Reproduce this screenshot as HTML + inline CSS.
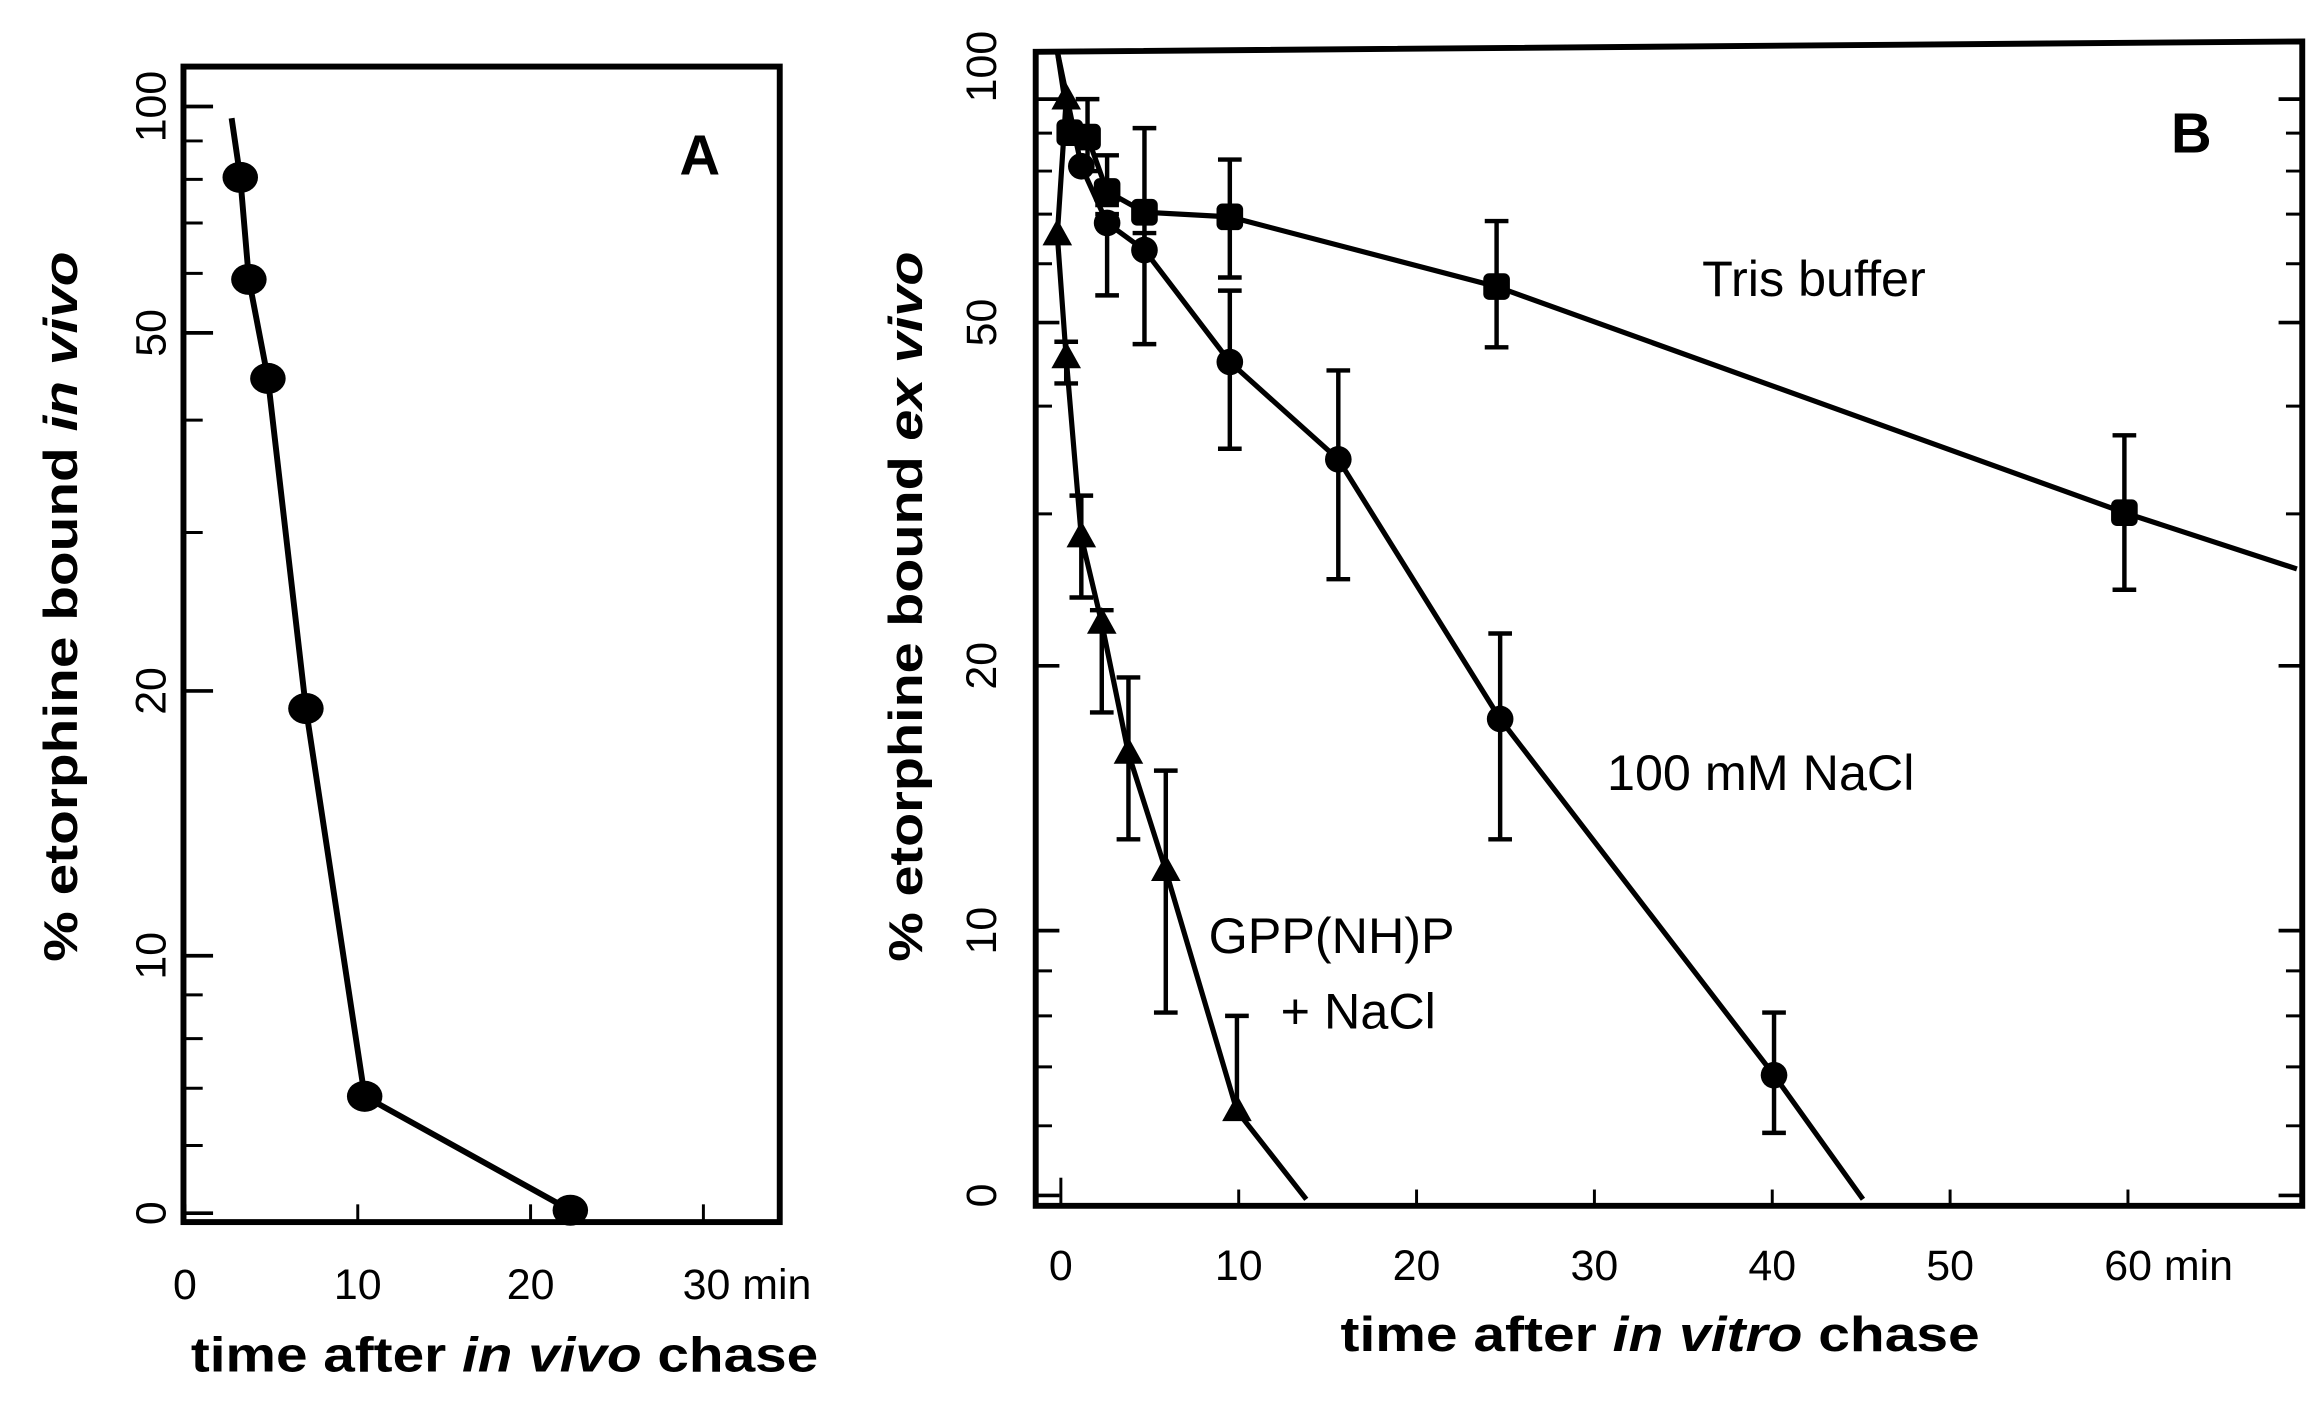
<!DOCTYPE html>
<html><head><meta charset="utf-8"><style>
html,body{margin:0;padding:0;background:#fff;}
svg{display:block;}
text{font-family:"Liberation Sans",sans-serif;fill:#000;}
</style></head><body>
<svg id="fig" width="2320" height="1402" viewBox="0 0 1568 947.6" preserveAspectRatio="none" xmlns="http://www.w3.org/2000/svg">
<g id="gA"></g>
<g id="gB"></g>
</svg>
<script>
// ---- Panel A data ----
const aTimes = [3.2, 3.7, 4.8, 7.0, 10.4, 22.3];
const aValues = [80.5, 58.9, 44.5, 19.1, 6.85, 5.04];
const aLineStart = [2.7, 96.5];
const aYTickValues = [100, 50, 20, 10, 5];
const aYTickLabels = ["100", "50", "20", "10", "0"];
const aXTickValues = [0, 10, 20, 30];
const aXTickLabels = ["0", "10", "20", "30 min"];
const minorTickValues = [90, 80, 70, 60, 40, 30, 9, 8, 7, 6];

// ---- Panel B data ----
const trisTimes = [0.5, 1.5, 2.6, 4.7, 9.5, 24.5, 59.8];
const trisValues = [90.1, 88.9, 75.1, 70.4, 69.4, 55.9, 30.1];
const trisErrHi = [null, 100, 84, 91.4, 82.9, 68.5, 37.0];
const trisErrLo = [null, 80, 72, 62, 57.5, 46.8, 24.5];
const trisEnd = [69.5, 25.9];
const naclTimes = [1.15, 2.6, 4.7, 9.5, 15.6, 24.7, 40.1];
const naclValues = [81.2, 68.1, 62.6, 45.0, 34.7, 17.4, 6.85];
const naclErrHi = [null, 70, 66, 55.2, 44.0, 21.8, 8.07];
const naclErrLo = [null, 54.4, 47.2, 35.7, 25.2, 12.7, 5.89];
const naclEnd = [45.1, 4.95];
const gppTimes = [0.3, -0.2, 0.3, 1.15, 2.3, 3.8, 5.9, 9.9];
const gppValues = [100, 65.6, 45.5, 28.2, 22.4, 15.9, 11.7, 6.24];
const gppErrHi = [null, null, 47.5, 31.5, 23.2, 19.4, 15.2, 8.0];
const gppErrLo = [null, null, 42.5, 24.0, 17.7, 12.7, 8.07, null];
const gppEnd = [13.8, 4.95];
const lineStartB = [-0.2, 116];
const bYTickValues = [100, 50, 20, 10, 5];
const bYTickLabels = ["100", "50", "20", "10", "0"];
const bXTickValues = [0, 10, 20, 30, 40, 50, 60];
const bXTickLabels = ["0", "10", "20", "30", "40", "50", "60 min"];

const NS = "http://www.w3.org/2000/svg";
function el(parent, tag, attrs) {
  const e = document.createElementNS(NS, tag);
  for (const k in attrs) e.setAttribute(k, attrs[k]);
  parent.appendChild(e);
  return e;
}
function makeLogScale(vals, pix) {
  return function (v) {
    const lv = Math.log(v);
    let i = 0;
    while (i < vals.length - 2 && lv < Math.log(vals[i + 1])) i++;
    const a = Math.log(vals[i]), b = Math.log(vals[i + 1]);
    return pix[i] + (lv - a) / (b - a) * (pix[i + 1] - pix[i]);
  };
}
const xA = t => 125 + t * 11.68;
const yA = makeLogScale(aYTickValues, [72, 225, 467, 646, 820]);
const xB = t => 717 + t * 12.02;
const yB = makeLogScale(bYTickValues, [67, 218, 450, 629, 808]);

const gA = document.getElementById('gA');
const gB = document.getElementById('gB');

// ---------- Panel A ----------
let f = el(gA, 'rect', {x: 124, y: 45, width: 403, height: 781, fill: 'none', stroke: '#000', 'stroke-width': 4});


aYTickValues.forEach((v, i) => {
  const y = yA(v);
  let t = el(gA, 'line', {x1: 124, x2: 144, y1: y, y2: y, stroke: '#000', 'stroke-width': 2.5});
  
  
  let l = el(gA, 'text', {x: 0, y: 0, 'font-size': 29, 'text-anchor': 'middle', transform: `translate(112,${y}) rotate(-90)`});
  l.textContent = aYTickLabels[i];
  
  
});
minorTickValues.forEach(v => {
  const y = yA(v);
  let t = el(gA, 'line', {x1: 124, x2: 137, y1: y, y2: y, stroke: '#000', 'stroke-width': 2});
  
  
});
aXTickValues.forEach((v, i) => {
  const x = xA(v);
  let t = el(gA, 'line', {x1: x, x2: x, y1: 826, y2: 814, stroke: '#000', 'stroke-width': 2});
  
  
  let l = el(gA, 'text', {x: i === 3 ? x - 14 : x, y: 878, 'font-size': 29, 'text-anchor': i === 3 ? 'start' : 'middle'});
  l.textContent = aXTickLabels[i];
  
  
});
let ptsA = [[xA(aLineStart[0]), yA(aLineStart[1])]].concat(aTimes.map((t, i) => [xA(t), yA(aValues[i])]));
let pl = el(gA, 'polyline', {points: ptsA.map(p => p.join(',')).join(' '), fill: 'none', stroke: '#000', 'stroke-width': 4});


aTimes.forEach((t, i) => {
  let c = el(gA, 'ellipse', {cx: xA(t), cy: yA(aValues[i]), rx: 12, ry: 10.5, fill: '#000'});
  
  
});
let lblA = el(gA, 'text', {x: 473, y: 118, 'font-size': 38, 'font-weight': 'bold', 'text-anchor': 'middle'});
lblA.textContent = 'A';


let ytA = el(gA, 'text', {x: 0, y: 0, 'font-size': 32, 'font-weight': 'bold', 'text-anchor': 'middle', transform: 'translate(52,410) rotate(-90)', textLength: 480, lengthAdjust: 'spacingAndGlyphs'});
ytA.innerHTML = '% etorphine bound <tspan font-style="italic">in vivo</tspan>';


let xtA = el(gA, 'text', {x: 341, y: 927, 'font-size': 33, 'font-weight': 'bold', 'text-anchor': 'middle', textLength: 424, lengthAdjust: 'spacingAndGlyphs'});
xtA.innerHTML = 'time after <tspan font-style="italic">in vivo</tspan> chase';



// ---------- Panel B ----------
let fb = el(gB, 'polygon', {points: '700,35 1556,28 1556,815 700,815', fill: 'none', stroke: '#000', 'stroke-width': 4});


bYTickValues.forEach((v, i) => {
  const y = yB(v);
  let t = el(gB, 'line', {x1: 700, x2: 716, y1: y, y2: y, stroke: '#000', 'stroke-width': 2.5});
  
  
  let t2 = el(gB, 'line', {x1: 1540, x2: 1556, y1: y, y2: y, stroke: '#000', 'stroke-width': 2.5});
  
  
  let l = el(gB, 'text', {x: 0, y: 0, 'font-size': 29, 'text-anchor': 'middle', transform: `translate(673,${i === 0 ? 45 : y}) rotate(-90)`});
  l.textContent = bYTickLabels[i];
  
  
});
minorTickValues.forEach(v => {
  const y = yB(v);
  let t = el(gB, 'line', {x1: 700, x2: 711, y1: y, y2: y, stroke: '#000', 'stroke-width': 2});
  
  
  let t2 = el(gB, 'line', {x1: 1545, x2: 1556, y1: y, y2: y, stroke: '#000', 'stroke-width': 2});
  
  
});
bXTickValues.forEach((v, i) => {
  const x = xB(v);
  let t = el(gB, 'line', {x1: x, x2: x, y1: 815, y2: i === 0 ? 796 : 804, stroke: '#000', 'stroke-width': 2});
  
  
  let l = el(gB, 'text', {x: i === 6 ? x - 16 : x, y: 865, 'font-size': 29, 'text-anchor': i === 6 ? 'start' : 'middle'});
  l.textContent = bXTickLabels[i];
  
  
});
function drawSeries(name, times, vals, hi, lo, end, marker) {
  const g = el(gB, 'g', {});
  
  
  const pts = [[xB(lineStartB[0]), yB(lineStartB[1])]].concat(times.map((t, i) => [xB(t), yB(vals[i])]));
  pts.push([xB(end[0]), yB(end[1])]);
  let p = el(g, 'polyline', {points: pts.map(q => q.join(',')).join(' '), fill: 'none', stroke: '#000', 'stroke-width': 3.5});
  
  
  times.forEach((t, i) => {
    const x = xB(t);
    if (hi[i] !== null || lo[i] !== null) {
      const y1 = yB(hi[i] !== null ? hi[i] : vals[i]);
      const y2 = yB(lo[i] !== null ? lo[i] : vals[i]);
      let e = el(g, 'path', {d: `M${x},${y1}V${y2}` + (hi[i] !== null ? `M${x - 8},${y1}H${x + 8}` : '') + (lo[i] !== null ? `M${x - 8},${y2}H${x + 8}` : ''), stroke: '#000', 'stroke-width': 3, fill: 'none'});
      
      
    }
    const y = yB(vals[i]);
    let m;
    if (marker === 'circle') m = el(g, 'circle', {cx: x, cy: y, r: 9, fill: '#000'});
    else if (marker === 'square') m = el(g, 'rect', {x: x - 9, y: y - 9, width: 18, height: 18, rx: 4, fill: '#000'});
    else m = el(g, 'polygon', {points: `${x},${y - 11} ${x - 10},${y + 7} ${x + 10},${y + 7}`, fill: '#000'});
    
    
  });
}
drawSeries('tris-buffer', trisTimes, trisValues, trisErrHi, trisErrLo, trisEnd, 'square');
drawSeries('nacl', naclTimes, naclValues, naclErrHi, naclErrLo, naclEnd, 'circle');
drawSeries('gpp-nacl', gppTimes, gppValues, gppErrHi, gppErrLo, gppEnd, 'triangle');

function label(g, txt, x, y, size, name, extra) {
  let t = el(g, 'text', Object.assign({x: x, y: y, 'font-size': size, 'text-anchor': 'middle'}, extra || {}));
  t.textContent = txt;
  
  
  return t;
}
label(gB, 'B', 1481, 103, 38, 'panel-b-label', {'font-weight': 'bold'});
label(gB, 'Tris buffer', 1226, 200, 34, 'tris-buffer-label');
label(gB, '100 mM NaCl', 1190, 534, 34, 'nacl-label');
label(gB, 'GPP(NH)P', 900, 644, 34, 'gpp-label');
label(gB, '+ NaCl', 918, 695, 34, 'gpp-nacl-label');
let ytB = el(gB, 'text', {x: 0, y: 0, 'font-size': 32, 'font-weight': 'bold', 'text-anchor': 'middle', transform: 'translate(623,410) rotate(-90)', textLength: 480, lengthAdjust: 'spacingAndGlyphs'});
ytB.innerHTML = '% etorphine bound <tspan font-style="italic">ex vivo</tspan>';


let xtB = el(gB, 'text', {x: 1122, y: 913, 'font-size': 33, 'font-weight': 'bold', 'text-anchor': 'middle', textLength: 432, lengthAdjust: 'spacingAndGlyphs'});
xtB.innerHTML = 'time after <tspan font-style="italic">in vitro</tspan> chase';


</script>
</body></html>
